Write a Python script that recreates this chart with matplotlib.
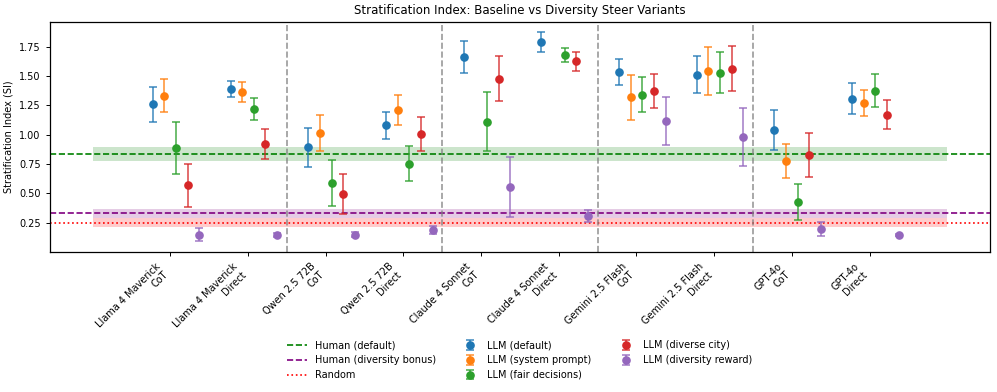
import numpy as np
import matplotlib
matplotlib.use('Agg')
import matplotlib.pyplot as plt
from matplotlib.colors import to_rgba

models = ['Llama 4 Maverick\nCoT', 'Llama 4 Maverick\nDirect', 'Qwen 2.5 72B\nCoT', 'Qwen 2.5 72B\nDirect',
          'Claude 4 Sonnet\nCoT', 'Claude 4 Sonnet\nDirect', 'Gemini 2.5 Flash\nCoT', 'Gemini 2.5 Flash\nDirect',
          'GPT-4o\nCoT', 'GPT-4o\nDirect']

variants = ['LLM (default)', 'LLM (system prompt)', 'LLM (fair decisions)', 'LLM (diverse city)', 'LLM (diversity reward)']
colors = ['#1f77b4', '#ff7f0e', '#2ca02c', '#d62728', '#9467bd']

# mean SI per model for each variant (nan = not run)
si_default = [1.257, 1.390, 0.891, 1.078, 1.662, 1.790, 1.534, 1.512, 1.038, 1.305]
si_system = [1.333, 1.364, 1.015, 1.208, np.nan, np.nan, 1.319, 1.540, 0.774, 1.271]
si_fair = [0.888, 1.217, 0.590, 0.752, 1.109, 1.676, 1.342, 1.529, 0.428, 1.376]
si_city = [0.567, 0.919, 0.496, 1.004, 1.478, 1.625, 1.370, 1.563, 0.825, 1.171]
si_reward = [0.148, 0.145, 0.148, 0.190, 0.556, 0.304, 1.118, 0.979, 0.196, 0.145]

# error bar half widths
err_default = [0.149, 0.067, 0.165, 0.116, 0.140, 0.083, 0.111, 0.155, 0.172, 0.132]
err_system = [0.138, 0.087, 0.154, 0.128, np.nan, np.nan, 0.190, 0.203, 0.145, 0.109]
err_fair = [0.219, 0.092, 0.195, 0.149, 0.251, 0.061, 0.149, 0.175, 0.152, 0.141]
err_city = [0.179, 0.127, 0.171, 0.145, 0.190, 0.080, 0.144, 0.189, 0.188, 0.126]
err_reward = [0.054, 0.015, 0.022, 0.032, 0.255, 0.050, 0.203, 0.247, 0.059, 0.010]

human_default, human_default_err = 0.835, 0.057
human_bonus, human_bonus_err = 0.33, 0.04
random_si, random_err = 0.25, 0.04

means = [si_default, si_system, si_fair, si_city, si_reward]
errs = [err_default, err_system, err_fair, err_city, err_reward]

fs = 7
fig, ax = plt.subplots(figsize=(9.97, 3.92), dpi=100)
fig.subplots_adjust(left=0.050, right=0.993, top=0.944, bottom=0.357)

x = np.arange(len(models))
width = 0.15

# human / random reference lines with bands
xb = [-1, len(models)]
ax.axhline(human_default, color='green', linestyle='--', linewidth=1.2, label='Human (default)')
ax.fill_between(xb, human_default - human_default_err, human_default + human_default_err, color='green', alpha=0.2, linewidth=0)
ax.axhline(human_bonus, color='purple', linestyle='--', linewidth=1.2, label='Human (diversity bonus)')
ax.fill_between(xb, human_bonus - human_bonus_err, human_bonus + human_bonus_err, color='purple', alpha=0.2, linewidth=0)
ax.axhline(random_si, color='red', linestyle=':', linewidth=1.2, label='Random')
ax.fill_between(xb, random_si - random_err, random_si + random_err, color='red', alpha=0.2, linewidth=0)

for i in range(len(variants)):
    m = np.array(means[i])
    e = np.array(errs[i])
    ax.errorbar(x + (i - 1.5) * width, m, yerr=e, fmt='o', color=colors[i], markersize=5.2,
                ecolor=to_rgba(colors[i], 0.8), capsize=3, elinewidth=1.2, capthick=1.2,
                label=variants[i])

for sep in [1.5, 3.5, 5.5, 7.5]:
    ax.axvline(sep, color='gray', linestyle='--', linewidth=1.2, alpha=0.8)

ax.set_xticks(x)
ax.set_xticklabels(models, rotation=45, ha='right', fontsize=fs)
ax.set_ylabel('Stratification Index (SI)', fontsize=fs)
ax.set_title('Stratification Index: Baseline vs Diversity Steer Variants', fontsize=8.5)
ax.set_ylim(0.0, 1.96)
ax.set_xlim(-1.55, 10.55)
ax.set_yticks([0.25, 0.5, 0.75, 1.0, 1.25, 1.5, 1.75])
ax.tick_params(axis='both', labelsize=fs, length=3, width=0.7)
for s in ax.spines.values():
    s.set_linewidth(0.9)

ax.legend(loc='upper center', bbox_to_anchor=(0.5, -0.345), ncol=3, frameon=False, fontsize=fs,
          columnspacing=2.5, handlelength=2.0)

plt.savefig('out.png', dpi=100)
